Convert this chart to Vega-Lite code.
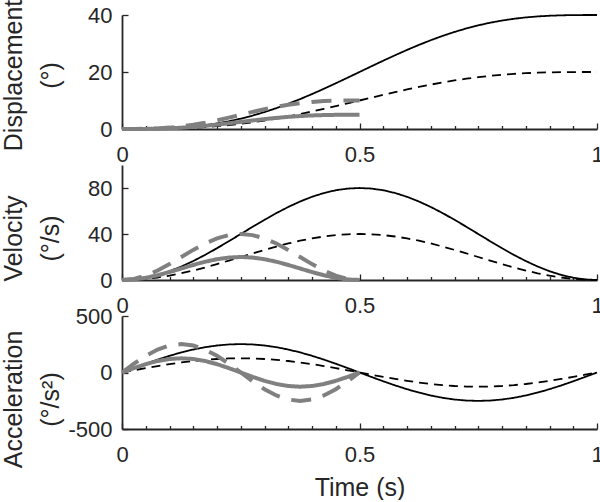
{
"$schema": "https://vega.github.io/schema/vega-lite/v6.json",
"padding": {"left": 1, "top": -1, "right": 0, "bottom": 0},
"background": "white",
"bounds": "flush",
"spacing": 36,
"data": {"values": [
{"s":"k1","t":0,"d":0,"v":0,"acc":0},{"s":"k1","t":0.025,"d":0.004,"v":0.49,"acc":39.32},{"s":"k1","t":0.05,"d":0.033,"v":1.96,"acc":77.66},{"s":"k1","t":0.075,"d":0.11,"v":4.36,"acc":114.1},{"s":"k1","t":0.1,"d":0.258,"v":7.64,"acc":147.73},{"s":"k1","t":0.125,"d":0.498,"v":11.72,"acc":177.72},{"s":"k1","t":0.15,"d":0.85,"v":16.49,"acc":203.33},{"s":"k1","t":0.175,"d":1.328,"v":21.84,"acc":223.94},{"s":"k1","t":0.2,"d":1.945,"v":27.64,"acc":239.03},{"s":"k1","t":0.225,"d":2.712,"v":33.74,"acc":248.24},{"s":"k1","t":0.25,"d":3.634,"v":40,"acc":251.33},{"s":"k1","t":0.275,"d":4.712,"v":46.26,"acc":248.24},{"s":"k1","t":0.3,"d":5.945,"v":52.36,"acc":239.03},{"s":"k1","t":0.325,"d":7.328,"v":58.16,"acc":223.94},{"s":"k1","t":0.35,"d":8.85,"v":63.51,"acc":203.33},{"s":"k1","t":0.375,"d":10.498,"v":68.28,"acc":177.72},{"s":"k1","t":0.4,"d":12.258,"v":72.36,"acc":147.73},{"s":"k1","t":0.425,"d":14.11,"v":75.64,"acc":114.1},{"s":"k1","t":0.45,"d":16.033,"v":78.04,"acc":77.66},{"s":"k1","t":0.475,"d":18.004,"v":79.51,"acc":39.32},{"s":"k1","t":0.5,"d":20,"v":80,"acc":0},{"s":"k1","t":0.525,"d":21.996,"v":79.51,"acc":-39.32},{"s":"k1","t":0.55,"d":23.967,"v":78.04,"acc":-77.66},{"s":"k1","t":0.575,"d":25.89,"v":75.64,"acc":-114.1},{"s":"k1","t":0.6,"d":27.742,"v":72.36,"acc":-147.73},{"s":"k1","t":0.625,"d":29.502,"v":68.28,"acc":-177.72},{"s":"k1","t":0.65,"d":31.15,"v":63.51,"acc":-203.33},{"s":"k1","t":0.675,"d":32.672,"v":58.16,"acc":-223.94},{"s":"k1","t":0.7,"d":34.055,"v":52.36,"acc":-239.03},{"s":"k1","t":0.725,"d":35.288,"v":46.26,"acc":-248.24},{"s":"k1","t":0.75,"d":36.366,"v":40,"acc":-251.33},{"s":"k1","t":0.775,"d":37.288,"v":33.74,"acc":-248.24},{"s":"k1","t":0.8,"d":38.055,"v":27.64,"acc":-239.03},{"s":"k1","t":0.825,"d":38.672,"v":21.84,"acc":-223.94},{"s":"k1","t":0.85,"d":39.15,"v":16.49,"acc":-203.33},{"s":"k1","t":0.875,"d":39.502,"v":11.72,"acc":-177.72},{"s":"k1","t":0.9,"d":39.742,"v":7.64,"acc":-147.73},{"s":"k1","t":0.925,"d":39.89,"v":4.36,"acc":-114.1},{"s":"k1","t":0.95,"d":39.967,"v":1.96,"acc":-77.66},{"s":"k1","t":0.975,"d":39.996,"v":0.49,"acc":-39.32},{"s":"k1","t":1,"d":40,"v":0,"acc":0},
{"s":"k2","t":0,"d":0,"v":0,"acc":0},{"s":"k2","t":0.025,"d":0.002,"v":0.25,"acc":19.66},{"s":"k2","t":0.05,"d":0.016,"v":0.98,"acc":38.83},{"s":"k2","t":0.075,"d":0.055,"v":2.18,"acc":57.05},{"s":"k2","t":0.1,"d":0.129,"v":3.82,"acc":73.86},{"s":"k2","t":0.125,"d":0.249,"v":5.86,"acc":88.86},{"s":"k2","t":0.15,"d":0.425,"v":8.24,"acc":101.66},{"s":"k2","t":0.175,"d":0.664,"v":10.92,"acc":111.97},{"s":"k2","t":0.2,"d":0.973,"v":13.82,"acc":119.51},{"s":"k2","t":0.225,"d":1.356,"v":16.87,"acc":124.12},{"s":"k2","t":0.25,"d":1.817,"v":20,"acc":125.66},{"s":"k2","t":0.275,"d":2.356,"v":23.13,"acc":124.12},{"s":"k2","t":0.3,"d":2.973,"v":26.18,"acc":119.51},{"s":"k2","t":0.325,"d":3.664,"v":29.08,"acc":111.97},{"s":"k2","t":0.35,"d":4.425,"v":31.76,"acc":101.66},{"s":"k2","t":0.375,"d":5.249,"v":34.14,"acc":88.86},{"s":"k2","t":0.4,"d":6.129,"v":36.18,"acc":73.86},{"s":"k2","t":0.425,"d":7.055,"v":37.82,"acc":57.05},{"s":"k2","t":0.45,"d":8.016,"v":39.02,"acc":38.83},{"s":"k2","t":0.475,"d":9.002,"v":39.75,"acc":19.66},{"s":"k2","t":0.5,"d":10,"v":40,"acc":0},{"s":"k2","t":0.525,"d":10.998,"v":39.75,"acc":-19.66},{"s":"k2","t":0.55,"d":11.984,"v":39.02,"acc":-38.83},{"s":"k2","t":0.575,"d":12.945,"v":37.82,"acc":-57.05},{"s":"k2","t":0.6,"d":13.871,"v":36.18,"acc":-73.86},{"s":"k2","t":0.625,"d":14.751,"v":34.14,"acc":-88.86},{"s":"k2","t":0.65,"d":15.575,"v":31.76,"acc":-101.66},{"s":"k2","t":0.675,"d":16.336,"v":29.08,"acc":-111.97},{"s":"k2","t":0.7,"d":17.027,"v":26.18,"acc":-119.51},{"s":"k2","t":0.725,"d":17.644,"v":23.13,"acc":-124.12},{"s":"k2","t":0.75,"d":18.183,"v":20,"acc":-125.66},{"s":"k2","t":0.775,"d":18.644,"v":16.87,"acc":-124.12},{"s":"k2","t":0.8,"d":19.027,"v":13.82,"acc":-119.51},{"s":"k2","t":0.825,"d":19.336,"v":10.92,"acc":-111.97},{"s":"k2","t":0.85,"d":19.575,"v":8.24,"acc":-101.66},{"s":"k2","t":0.875,"d":19.751,"v":5.86,"acc":-88.86},{"s":"k2","t":0.9,"d":19.871,"v":3.82,"acc":-73.86},{"s":"k2","t":0.925,"d":19.945,"v":2.18,"acc":-57.05},{"s":"k2","t":0.95,"d":19.984,"v":0.98,"acc":-38.83},{"s":"k2","t":0.975,"d":19.998,"v":0.25,"acc":-19.66},{"s":"k2","t":1,"d":20,"v":0,"acc":0},
{"s":"g1","t":0,"d":0,"v":0,"acc":0},{"s":"g1","t":0.025,"d":0.004,"v":0.49,"acc":38.83},{"s":"g1","t":0.05,"d":0.032,"v":1.91,"acc":73.86},{"s":"g1","t":0.075,"d":0.106,"v":4.12,"acc":101.66},{"s":"g1","t":0.1,"d":0.243,"v":6.91,"acc":119.51},{"s":"g1","t":0.125,"d":0.454,"v":10,"acc":125.66},{"s":"g1","t":0.15,"d":0.743,"v":13.09,"acc":119.51},{"s":"g1","t":0.175,"d":1.106,"v":15.88,"acc":101.66},{"s":"g1","t":0.2,"d":1.532,"v":18.09,"acc":73.86},{"s":"g1","t":0.225,"d":2.004,"v":19.51,"acc":38.83},{"s":"g1","t":0.25,"d":2.5,"v":20,"acc":0},{"s":"g1","t":0.275,"d":2.996,"v":19.51,"acc":-38.83},{"s":"g1","t":0.3,"d":3.468,"v":18.09,"acc":-73.86},{"s":"g1","t":0.325,"d":3.894,"v":15.88,"acc":-101.66},{"s":"g1","t":0.35,"d":4.257,"v":13.09,"acc":-119.51},{"s":"g1","t":0.375,"d":4.546,"v":10,"acc":-125.66},{"s":"g1","t":0.4,"d":4.757,"v":6.91,"acc":-119.51},{"s":"g1","t":0.425,"d":4.894,"v":4.12,"acc":-101.66},{"s":"g1","t":0.45,"d":4.968,"v":1.91,"acc":-73.86},{"s":"g1","t":0.475,"d":4.996,"v":0.49,"acc":-38.83},{"s":"g1","t":0.5,"d":5,"v":0,"acc":0},
{"s":"g2","t":0,"d":0,"v":0,"acc":0},{"s":"g2","t":0.025,"d":0.008,"v":0.98,"acc":77.66},{"s":"g2","t":0.05,"d":0.065,"v":3.82,"acc":147.73},{"s":"g2","t":0.075,"d":0.212,"v":8.24,"acc":203.33},{"s":"g2","t":0.1,"d":0.486,"v":13.82,"acc":239.03},{"s":"g2","t":0.125,"d":0.908,"v":20,"acc":251.33},{"s":"g2","t":0.15,"d":1.486,"v":26.18,"acc":239.03},{"s":"g2","t":0.175,"d":2.212,"v":31.76,"acc":203.33},{"s":"g2","t":0.2,"d":3.065,"v":36.18,"acc":147.73},{"s":"g2","t":0.225,"d":4.008,"v":39.02,"acc":77.66},{"s":"g2","t":0.25,"d":5,"v":40,"acc":0},{"s":"g2","t":0.275,"d":5.992,"v":39.02,"acc":-77.66},{"s":"g2","t":0.3,"d":6.935,"v":36.18,"acc":-147.73},{"s":"g2","t":0.325,"d":7.788,"v":31.76,"acc":-203.33},{"s":"g2","t":0.35,"d":8.514,"v":26.18,"acc":-239.03},{"s":"g2","t":0.375,"d":9.092,"v":20,"acc":-251.33},{"s":"g2","t":0.4,"d":9.514,"v":13.82,"acc":-239.03},{"s":"g2","t":0.425,"d":9.788,"v":8.24,"acc":-203.33},{"s":"g2","t":0.45,"d":9.935,"v":3.82,"acc":-147.73},{"s":"g2","t":0.475,"d":9.992,"v":0.98,"acc":-77.66},{"s":"g2","t":0.5,"d":10,"v":0,"acc":0}
]},
"vconcat": [
{
"width": 475, "height": 114,
"encoding": {
"x": {"field": "t", "type": "quantitative", "scale": {"domain": [0, 1], "nice": false},
"axis": {"title": null, "values": [0,0.05,0.1,0.15,0.2,0.25,0.3,0.35,0.4,0.45,0.5,0.55,0.6,0.65,0.7,0.75,0.8,0.85,0.9,0.95,1],
"labelExpr": "datum.value == 0 ? '0' : datum.value == 0.5 ? '0.5' : datum.value == 1 ? '1' : ''",
"tickSize": {"condition": {"test": "datum.value == 0 || datum.value == 0.5 || datum.value == 1", "value": -6}, "value": -3.5},
"labelPadding": 21}},
"y": {"field": "d", "type": "quantitative", "scale": {"domain": [0, 40], "nice": false},
"axis": {"values": [0, 20, 40], "tickSize": -6, "labelPadding": 16,
"title": ["Displacement", "(°)"], "titleX": -101, "titleY": 60, "titleAngle": 270, "titleAlign": "center", "titleBaseline": "alphabetic", "titleLineHeight": 37}},
"strokeDash": {"field": "s", "type": "nominal", "scale": {"domain": ["k1","k2","g1","g2"], "range": [[1,0],[9,6],[1,0],[20,12]]}, "legend": null}
},
"layer": [
{"transform": [{"filter": "datum.s == 'k1' || datum.s == 'k2'"}], "mark": {"type": "line", "color": "#000000", "strokeWidth": 1.8}},
{"transform": [{"filter": "datum.s == 'g1' || datum.s == 'g2'"}], "mark": {"type": "line", "color": "#808080", "strokeWidth": 4}}
]
},
{
"width": 475, "height": 115,
"encoding": {
"x": {"field": "t", "type": "quantitative", "scale": {"domain": [0, 1], "nice": false},
"axis": {"title": null, "values": [0,0.05,0.1,0.15,0.2,0.25,0.3,0.35,0.4,0.45,0.5,0.55,0.6,0.65,0.7,0.75,0.8,0.85,0.9,0.95,1],
"labelExpr": "datum.value == 0 ? '0' : datum.value == 0.5 ? '0.5' : datum.value == 1 ? '1' : ''",
"tickSize": {"condition": {"test": "datum.value == 0 || datum.value == 0.5 || datum.value == 1", "value": -6}, "value": -3.5},
"labelPadding": 21}},
"y": {"field": "v", "type": "quantitative", "scale": {"domain": [0, 100], "nice": false},
"axis": {"values": [0, 40, 80], "tickSize": -6, "labelPadding": 16,
"title": ["Velocity", "\u00a0\u00a0\u00a0\u00a0\u00a0(°/s)"], "titleX": -101, "titleY": 73, "titleAngle": 270, "titleAlign": "center", "titleBaseline": "alphabetic", "titleLineHeight": 37}},
"strokeDash": {"field": "s", "type": "nominal", "scale": {"domain": ["k1","k2","g1","g2"], "range": [[1,0],[9,6],[1,0],[20,12]]}, "legend": null}
},
"layer": [
{"transform": [{"filter": "datum.s == 'k1' || datum.s == 'k2'"}], "mark": {"type": "line", "color": "#000000", "strokeWidth": 1.8}},
{"transform": [{"filter": "datum.s == 'g1' || datum.s == 'g2'"}], "mark": {"type": "line", "color": "#808080", "strokeWidth": 4}}
]
},
{
"width": 475, "height": 113,
"encoding": {
"x": {"field": "t", "type": "quantitative", "scale": {"domain": [0, 1], "nice": false},
"axis": {"title": "Time (s)", "titleY": 66, "titleBaseline": "alphabetic", "values": [0,0.05,0.1,0.15,0.2,0.25,0.3,0.35,0.4,0.45,0.5,0.55,0.6,0.65,0.7,0.75,0.8,0.85,0.9,0.95,1],
"labelExpr": "datum.value == 0 ? '0' : datum.value == 0.5 ? '0.5' : datum.value == 1 ? '1' : ''",
"tickSize": {"condition": {"test": "datum.value == 0 || datum.value == 0.5 || datum.value == 1", "value": -6}, "value": -3.5},
"labelPadding": 21}},
"y": {"field": "acc", "type": "quantitative", "scale": {"domain": [-500, 500], "nice": false},
"axis": {"values": [-500, 0, 500], "tickSize": -6, "labelPadding": 16,
"labelExpr": "datum.value < 0 ? '-' + abs(datum.value) : '' + datum.value",
"title": ["Acceleration", "\u00a0\u00a0\u00a0\u00a0\u00a0\u00a0\u00a0\u00a0\u00a0(°/s²)"], "titleX": -101, "titleY": 83, "titleAngle": 270, "titleAlign": "center", "titleBaseline": "alphabetic", "titleLineHeight": 37}},
"strokeDash": {"field": "s", "type": "nominal", "scale": {"domain": ["k1","k2","g1","g2"], "range": [[1,0],[9,6],[1,0],[20,12]]}, "legend": null}
},
"layer": [
{"transform": [{"filter": "datum.s == 'k1' || datum.s == 'k2'"}], "mark": {"type": "line", "color": "#000000", "strokeWidth": 1.8}},
{"transform": [{"filter": "datum.s == 'g1' || datum.s == 'g2'"}], "mark": {"type": "line", "color": "#808080", "strokeWidth": 4}}
]
}
],
"config": {
"view": {"stroke": null},
"axis": {"domainColor": "#262626", "domainWidth": 1.8, "tickColor": "#262626", "tickWidth": 1.3, "labelColor": "#262626", "labelFont": "Liberation Sans", "labelFontSize": 22, "titleFont": "Liberation Sans", "titleFontSize": 25, "titleFontWeight": "normal", "titleColor": "#262626", "grid": false, "labelFlush": false, "labelOverlap": false}
}
}
